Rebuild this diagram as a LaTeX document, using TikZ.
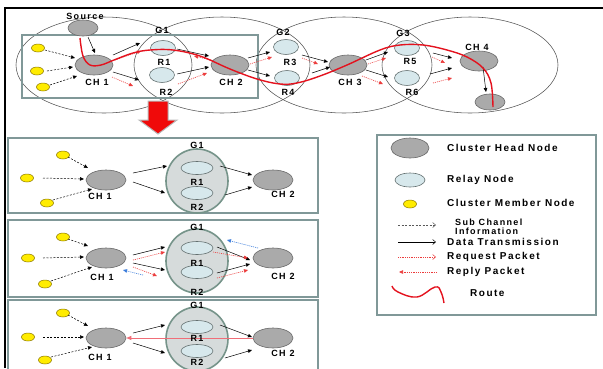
\documentclass[tikz,border=0pt]{standalone}
\usepackage{fontspec}
\setmainfont{Liberation Sans}
\newfontfamily\lf[LetterSpace=15]{Liberation Sans}
\usetikzlibrary{arrows.meta,shapes.geometric,calc}
\definecolor{chfill}{RGB}{170,170,170}
\definecolor{chline}{RGB}{105,105,105}
\definecolor{rfill}{RGB}{215,232,236}
\definecolor{rline}{RGB}{100,112,112}
\definecolor{yfill}{RGB}{255,236,0}
\definecolor{yline}{RGB}{140,120,0}
\definecolor{panelc}{RGB}{128,152,152}
\definecolor{gfill}{RGB}{214,219,219}
\definecolor{gline}{RGB}{118,148,138}
\definecolor{bigline}{RGB}{85,85,85}
\definecolor{routered}{RGB}{228,18,30}
\definecolor{reqred}{RGB}{236,60,60}
\definecolor{pinkline}{RGB}{240,110,120}
\definecolor{bluarrc}{RGB}{60,125,220}
\definecolor{bigred}{RGB}{240,10,10}
\tikzset{
  chn/.style={ellipse, draw=chline, fill=chfill, line width=0.6pt, minimum width=38pt, minimum height=20pt, inner sep=0pt},
  rel/.style={ellipse, draw=rline, fill=rfill, line width=0.6pt, minimum width=25pt, minimum height=15pt, inner sep=0pt},
  prel/.style={rel, minimum width=32pt, minimum height=13pt},
  memb/.style={ellipse, draw=yline, fill=yfill, line width=0.5pt, minimum width=13pt, minimum height=8pt, inner sep=0pt},
  grp/.style={ellipse, draw=gline, fill=gfill, line width=1.6pt, minimum width=62pt, minimum height=64pt, inner sep=0pt},
  lab/.style={font=\lf\bfseries\fontsize{9}{10}\selectfont, inner sep=0pt},
  leg/.style={font=\lf\bfseries\fontsize{10}{10}\selectfont, inner sep=0pt, anchor=west},
  datarr/.style={-{Triangle[length=4pt,width=3.5pt]}, line width=0.5pt, black},
  subarr/.style={datarr, dash pattern=on 2pt off 1.5pt},
  reqarr/.style={-{Triangle[length=4pt,width=3.5pt]}, line width=0.6pt, reqred, dash pattern=on 1pt off 1pt},
  bluarr/.style={-{Triangle[length=4pt,width=3.5pt]}, line width=0.6pt, bluarrc, dash pattern=on 1pt off 1pt},
  routeline/.style={routered, line width=1.4pt},
  panelbox/.style={draw=panelc, line width=1.8pt},
  bigell/.style={draw=bigline, line width=0.55pt},
  legarr/.style={-{Straight Barb[length=3pt,width=5pt]}, line width=0.5pt}
}
\begin{document}
\begin{tikzpicture}[x=1pt,y=-1pt]
\useasboundingbox (0,0) rectangle (603,368);
\clip (0,0) rectangle (603,368);
\fill[white] (0,0) rectangle (603,368);
% outer frame
\draw[black, line width=1.2pt] (5,368) -- (5,8) -- (603,8);

% ---------- top network ----------
\draw[bigell] (104,65) ellipse [x radius=88pt, y radius=48pt];
\draw[bigell] (222,65) ellipse [x radius=88pt, y radius=48pt];
\draw[bigell] (344,65) ellipse [x radius=88pt, y radius=48pt];
\draw[bigell] (470,65) ellipse [x radius=88pt, y radius=48pt];
\draw[panelbox] (22,35) rectangle (258,98);

\node[chn, minimum width=30pt, minimum height=16pt] (src) at (83,28) {};
\node[lab] (srclab) at (85,16) {Source};
\node[memb] (ya) at (38,48) {};
\node[memb] (yb) at (37,71) {};
\node[memb] (yc) at (43,87) {};
\node[chn] (ch1) at (94,65) {};
\node[lab] (ch1lab) at (97,82) {CH 1};
\node[rel] (r1) at (163,48) {};
\node[rel] (r2) at (162,75) {};
\node[lab] (g1lab) at (162,30) {G1};
\node[lab] (r1lab) at (164,62) {R1};
\node[lab] (r2lab) at (166,92) {R2};
\node[chn] (ch2) at (230,65) {};
\node[lab] (ch2lab) at (231,82) {CH 2};
\node[rel] (r3) at (286,47) {};
\node[rel] (r4) at (287,78) {};
\node[lab] (g2lab) at (283,32) {G2};
\node[lab] (r3lab) at (290,62) {R3};
\node[lab] (r4lab) at (288,92) {R4};
\node[chn] (ch3) at (348,65) {};
\node[lab] (ch3lab) at (350,82) {CH 3};
\node[rel] (r5) at (407,48) {};
\node[rel] (r6) at (407,78) {};
\node[lab] (g3lab) at (403,33) {G3};
\node[lab] (r5lab) at (410,61) {R5};
\node[lab] (r6lab) at (412,92) {R6};
\node[chn] (ch4) at (479,61) {};
\node[lab] (ch4lab) at (477,47) {CH 4};
\node[chn, minimum width=30pt, minimum height=16pt] (dest) at (490,102) {};

\draw[datarr] ($(src)+(5,9)$) -- ($(ch1)+(1,-12)$);
\draw[subarr] ($(ya)+(7,2)$) -- ($(ch1)+(-19,-7)$);
\draw[subarr] ($(yb)+(10,0)$) -- ($(ch1)+(-21,2)$);
\draw[subarr] ($(yc)+(7,-2)$) -- ($(ch1)+(-17,11)$);
\draw[datarr] ($(ch1)+(19,-10)$) -- ($(r1)+(-23,-5)$);
\draw[reqarr] ($(ch1)+(21,-5)$) -- ($(r1)+(-22,3)$);
\draw[datarr] ($(ch1)+(19,7)$) -- ($(r2)+(-23,5)$);
\draw[reqarr] ($(ch1)+(18,12)$) -- ($(r2)+(-29,11)$);
\draw[datarr] ($(r1)+(14,1)$) -- ($(ch2)+(-21,-9)$);
\draw[reqarr] ($(ch2)+(-19,-5)$) -- ($(r1)+(31,8)$);
\draw[datarr] ($(r2)+(15,-1)$) -- ($(ch2)+(-21,2)$);
\draw[reqarr] ($(r2)+(16,9)$) -- ($(ch2)+(-23,8)$);
\draw[datarr] ($(ch2)+(18,-7)$) -- ($(r3)+(-16,5)$);
\draw[reqarr] ($(ch2)+(20,-1)$) -- ($(r3)+(-14,10)$);
\draw[datarr] ($(ch2)+(18,5)$) -- ($(r4)+(-17,-2)$);
\draw[datarr] ($(r3)+(16,8)$) -- ($(ch3)+(-20,-3)$);
\draw[reqarr] ($(r3)+(16,11)$) -- ($(ch3)+(-30,-1)$);
\draw[datarr] ($(r4)+(25,-5)$) -- ($(ch3)+(-18,2)$);
\draw[datarr] ($(ch3)+(18,-5)$) -- ($(r5)+(-19,4)$);
\draw[reqarr] ($(ch3)+(20,-1)$) -- ($(r5)+(-21,10)$);
\draw[datarr] ($(ch3)+(18,5)$) -- ($(r6)+(-19,-1)$);
\draw[reqarr] ($(ch3)+(14,11)$) -- ($(r6)+(-24,6)$);
\draw[datarr] ($(r5)+(26,5)$) -- ($(ch4)+(-27,-3)$);
\draw[reqarr] ($(r5)+(25,9)$) -- ($(ch4)+(-34,2)$);
\draw[datarr] ($(r6)+(23,-4)$) -- ($(ch4)+(-27,7)$);
\draw[reqarr] ($(r6)+(26,5)$) -- ($(ch4)+(-27,17)$);
\draw[datarr] ($(ch4)+(4,6)$) -- ($(dest)+(-4,-10)$);

% route
\draw[routeline] plot[smooth, tension=0.6] coordinates {(80,38) (83,56) (90,65) (101,65) (114,60) (133,53) (150,50) (173,50) (200,56) (230,69) (257,79) (280,84) (297,83) (320,76) (347,65) (380,50) (400,45) (423,45) (447,50) (467,57) (483,68) (491,83) (493,107)};

% big red arrow
\draw[fill=bigred, draw=gray!55, line width=1pt] (148,101) -- (168,101) -- (168,120) -- (177,120) -- (158,134) -- (139,120) -- (148,120) -- cycle;

% ---------- panel 1 ----------
\draw[panelbox] (8,138) rectangle (318,213);
\node[grp] (pag) at (197,181) {};
\node[memb] (paya) at (63,155) {};
\node[memb] (payb) at (27,178) {};
\node[memb] (payc) at (47,203) {};
\node[chn, minimum width=40pt] (pach1) at (106,180) {};
\node[lab] (pach1lab) at (100,196) {CH 1};
\node[prel] (par1) at (197,168) {};
\node[prel] (par2) at (197,193) {};
\node[lab] (paglab) at (197,145) {G1};
\node[lab] (par1lab) at (197,182) {R1};
\node[lab] (par2lab) at (197,207) {R2};
\node[chn, minimum width=40pt] (pach2) at (273,180) {};
\node[lab] (pach2lab) at (283,194) {CH 2};
\draw[subarr] ($(paya)+(5,2)$) -- ($(pach1)+(-18,-12)$);
\draw[subarr] ($(payb)+(16,0)$) -- ($(pach1)+(-22,-1)$);
\draw[subarr] ($(payc)+(6,-3)$) -- ($(pach1)+(-14,9)$);
\draw[datarr] ($(pach1)+(27,-7)$) -- ($(pag)+(-30,-15)$);
\draw[datarr] ($(pach1)+(27,2)$) -- ($(pag)+(-32,12)$);
\draw[datarr] ($(pag)+(23,-15)$) -- ($(pach2)+(-21,-5)$);
\draw[datarr] ($(pag)+(28,14)$) -- ($(pach2)+(-21,7)$);

% ---------- panel 2 ----------
\draw[panelbox] (8,220) rectangle (318,297);
\node[grp] (pbg) at (197,261) {};
\node[memb] (pbya) at (63,237) {};
\node[memb] (pbyb) at (28,258) {};
\node[memb] (pbyc) at (45,284) {};
\node[chn, minimum width=40pt] (pbch1) at (106,258) {};
\node[lab] (pbch1lab) at (102,277) {CH 1};
\node[prel] (pbr1) at (197,248) {};
\node[prel] (pbr2) at (197,272) {};
\node[lab] (pbglab) at (197,227) {G1};
\node[lab] (pbr1lab) at (197,263) {R1};
\node[lab] (pbr2lab) at (197,292) {R2};
\node[chn, minimum width=40pt] (pbch2) at (273,258) {};
\node[lab] (pbch2lab) at (283,276) {CH 2};
\draw[subarr] ($(pbya)+(5,2)$) -- ($(pbch1)+(-18,-12)$);
\draw[subarr] ($(pbyb)+(15,0)$) -- ($(pbch1)+(-22,-1)$);
\draw[subarr] ($(pbyc)+(6,-3)$) -- ($(pbch1)+(-14,9)$);
\draw[datarr] ($(pbch1)+(27,-3)$) -- ($(pbg)+(-32,-14)$);
\draw[reqarr] ($(pbch1)+(27,2)$) -- ($(pbg)+(-32,-9)$);
\draw[datarr] ($(pbch1)+(27,5)$) -- ($(pbg)+(-32,9)$);
\draw[reqarr] ($(pbch1)+(27,9)$) -- ($(pbg)+(-40,15)$);
\draw[bluarr] ($(pbg)+(-54,14)$) -- ($(pbch1)+(17,12)$);
\draw[datarr] ($(pbg)+(20,-14)$) -- ($(pbch2)+(-23,2)$);
\draw[reqarr] ($(pbg)+(16,-9)$) -- ($(pbch2)+(-25,0)$);
\draw[bluarr] ($(pbch2)+(-15,-10)$) -- ($(pbg)+(30,-21)$);
\draw[datarr] ($(pbg)+(20,12)$) -- ($(pbch2)+(-23,6)$);
\draw[reqarr] ($(pbg)+(20,17)$) -- ($(pbch2)+(-25,12)$);

% ---------- panel 3 ----------
\draw[panelbox] (8,300) rectangle (318,385);
\node[grp] (pcg) at (197,339) {};
\node[memb] (pcya) at (63,313) {};
\node[memb] (pcyb) at (28,337) {};
\node[memb] (pcyc) at (45,360) {};
\node[chn, minimum width=40pt] (pcch1) at (106,338) {};
\node[lab] (pcch1lab) at (100,357) {CH 1};
\node[prel] (pcr1) at (197,327) {};
\node[prel] (pcr2) at (197,351) {};
\node[chn, minimum width=40pt] (pcch2) at (273,338) {};
\draw[-{Triangle[length=5pt,width=4pt]}, pinkline, line width=0.7pt] (pcch2.west) -- (pcch1.east);
\node[lab] (pcglab) at (197,305) {G1};
\node[lab] (pcr1lab) at (197,338) {R1};
\node[lab] (pcr2lab) at (197,362) {R2};
\node[lab] (pcch2lab) at (283,353) {CH 2};
\draw[subarr] ($(pcya)+(5,2)$) -- ($(pcch1)+(-18,-12)$);
\draw[subarr] ($(pcyb)+(15,0)$) -- ($(pcch1)+(-22,-1)$);
\draw[subarr] ($(pcyc)+(6,-3)$) -- ($(pcch1)+(-14,9)$);
\draw[datarr] ($(pcch1)+(27,-5)$) -- ($(pcg)+(-32,-14)$);
\draw[datarr] ($(pcch1)+(27,5)$) -- ($(pcg)+(-32,14)$);
\draw[datarr] ($(pcg)+(23,-14)$) -- ($(pcch2)+(-21,-1)$);
\draw[datarr] ($(pcg)+(28,19)$) -- ($(pcch2)+(-21,12)$);

% ---------- legend ----------
\draw[panelbox] (377,135) rectangle (596,315);
\node[chn] (lch) at (410,148) {};
\node[leg] (lchlab) at (447,148) {Cluster Head Node};
\node[rel, minimum width=30pt, minimum height=14pt] (lrel) at (410,180) {};
\node[leg] (lrellab) at (447,180) {Relay Node};
\node[memb] (lmem) at (410,204) {};
\node[leg] (lmemlab) at (447,203) {Cluster Member Node};
\coordinate (la1) at (398,225); \coordinate (lb1) at (436,225);
\draw[legarr, gray!70!black, dash pattern=on 2pt off 1.5pt] (la1) -- (lb1);
\node[leg, align=left, font=\lf\bfseries\fontsize{9}{9}\selectfont] (lsub) at (455,227) {Sub Channel\\Information};
\coordinate (la2) at (398,242); \coordinate (lb2) at (436,242);
\draw[legarr, black] (la2) -- (lb2);
\node[leg] (ldata) at (447,242) {Data Transmission};
\coordinate (la3) at (398,257); \coordinate (lb3) at (436,257);
\draw[legarr, reqred, dash pattern=on 1pt off 0.8pt] (la3) -- (lb3);
\node[leg] (lreq) at (447,257) {Request Packet};
\coordinate (la4) at (437,272); \coordinate (lb4) at (399,272);
\draw[-{Triangle[length=4pt,width=3.5pt]}, reqred, line width=0.6pt, dash pattern=on 1pt off 0.8pt] (la4) -- (lb4);
\node[leg] (lrep) at (447,272) {Reply Packet};
\draw[routeline] plot[smooth, tension=0.7] coordinates {(392,286) (398,292) (417,297) (435,287) (441,292) (444,303)};
\node[leg] (lroute) at (470,293) {Route};
\end{tikzpicture}
\end{document}
